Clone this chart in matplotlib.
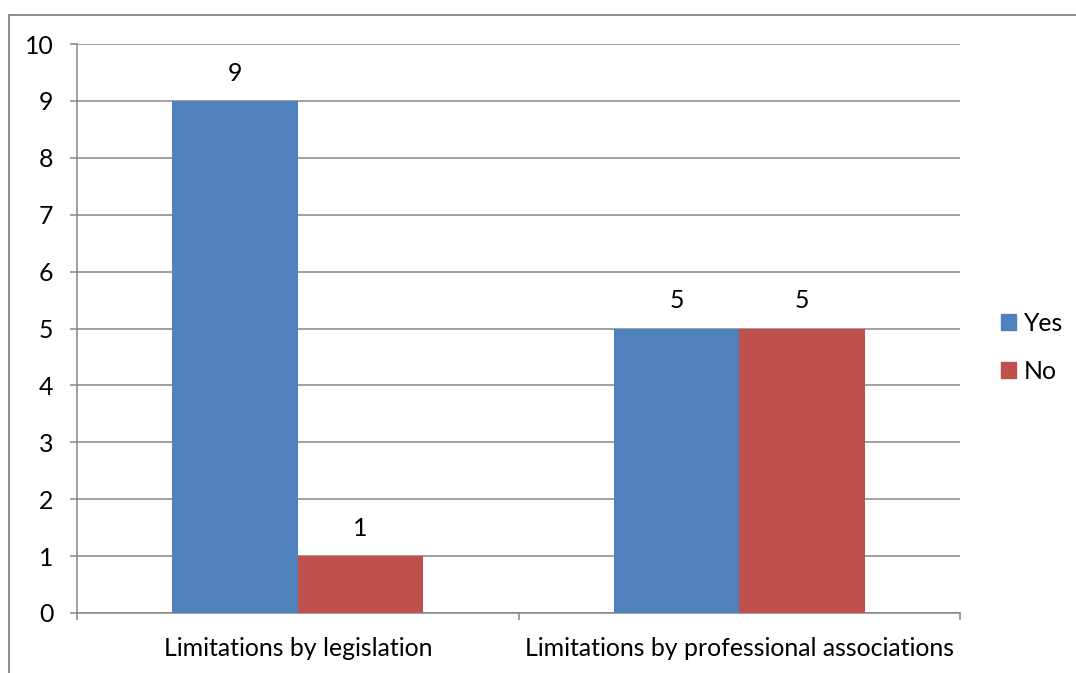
import matplotlib
matplotlib.use("Agg")
import matplotlib.pyplot as plt
from matplotlib.patches import Rectangle, Patch
import numpy as np

categories = ["Limitations by legislation", "Limitations by professional associations"]
series_names = ["Yes", "No"]
yes_values = [9, 5]
no_values = [1, 5]
y_ticks = [0, 1, 2, 3, 4, 5, 6, 7, 8, 9, 10]

BLUE = "#4F81BD"
RED = "#C0504D"
GRID = "#868686"
FONT = "Lato"
FS = 17.9

plt.rcParams["font.family"] = [FONT, "DejaVu Sans"]

W, H = 1076, 673
fig = plt.figure(figsize=(W / 100, H / 100), dpi=100)
ax = fig.add_axes([77 / W, 60 / H, (960 - 77) / W, (613 - 44) / H])

x = np.arange(len(categories))
bw = 125.5 / 441.5
b1 = ax.bar(x - bw / 2, yes_values, bw, color=BLUE, zorder=3, label=series_names[0])
b2 = ax.bar(x + bw / 2, no_values, bw, color=RED, zorder=3, label=series_names[1])

for bars in (b1, b2):
    for r in bars:
        v = r.get_height()
        ax.annotate(f"{v:g}", (r.get_x() + r.get_width() / 2, v),
                    xytext=(0, 20), textcoords="offset points",
                    ha="center", va="center", fontsize=FS, color="black")

ax.set_xlim(-0.5, len(categories) - 0.5)
ax.set_ylim(0, 10)
ax.set_yticks(y_ticks)
ax.set_yticklabels([str(t) for t in y_ticks], fontsize=FS)
ax.yaxis.grid(True, color=GRID, linewidth=1.1, zorder=0)
ax.set_axisbelow(True)

ax.set_xticks(x)
ax.set_xticklabels(categories, fontsize=FS)
ax.set_xticks(np.arange(-0.5, len(categories)), minor=True)
ax.tick_params(axis="x", which="major", length=0, pad=17)
ax.tick_params(axis="x", which="minor", length=5, width=1.1, color=GRID, direction="out")
ax.tick_params(axis="y", length=5, width=1.1, color=GRID, direction="out", pad=12)

for s in ("top", "right"):
    ax.spines[s].set_visible(False)
for s in ("left", "bottom"):
    ax.spines[s].set_color(GRID)
    ax.spines[s].set_linewidth(1.1)

handles = [Patch(color=BLUE), Patch(color=RED)]
fig.legend(handles, series_names, loc="center left",
           bbox_to_anchor=(1001 / W, 1 - 347.5 / H), frameon=False,
           fontsize=FS, handlelength=0.6, handleheight=0.6,
           handletextpad=0.3, labelspacing=1.0, borderpad=0, borderaxespad=0)

fig.patches.append(Rectangle((9 / W, -0.1), 1.2, 1 - 15 / H + 0.1,
                             transform=fig.transFigure, fill=False,
                             edgecolor=GRID, linewidth=1.3))

fig.savefig("out.png", dpi=100)
